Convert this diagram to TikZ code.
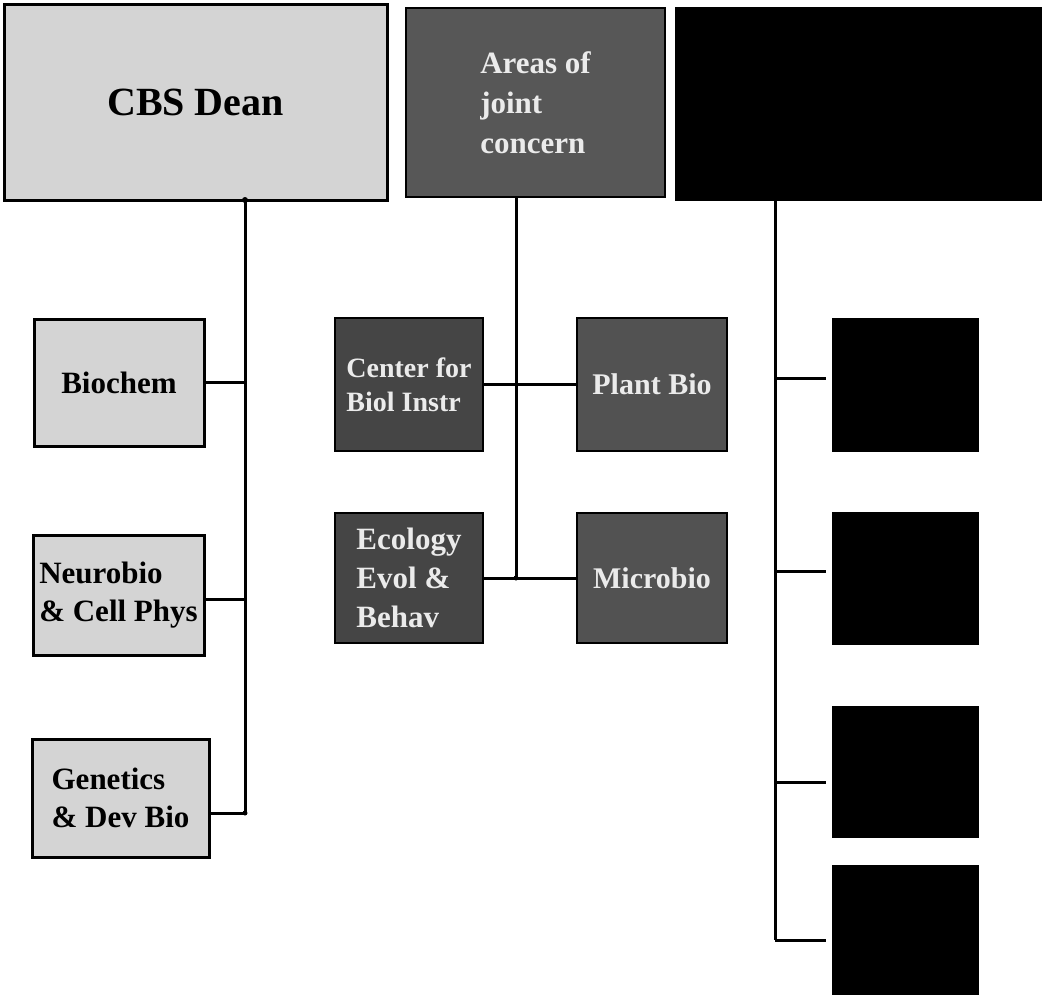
\documentclass[tikz,border=0pt]{standalone}
\usepackage{fontspec}
\setmainfont{Liberation Serif}
\begin{document}
\begin{tikzpicture}[x=1pt,y=-1pt,
  box/.style={draw=black,line width=3pt,inner sep=0pt,font=\bfseries},
  lightbox/.style={box,fill=black!17,text=black},
  darkbox/.style={box,fill=black!68,text=black!8,line width=2.5pt},
  blackbox/.style={box,fill=black,line width=1pt},
  conn/.style={line width=3pt},
  jdot/.style={circle,fill=black,inner sep=0pt,minimum size=6pt}]
\useasboundingbox (0,0) rectangle (1042,994);
\fill[white] (0,0) rectangle (1042,994);
% top row
\node[lightbox,minimum width=383pt,minimum height=196pt,font=\bfseries\fontsize{40}{48}\selectfont] (dean) at (195.5,102) {CBS Dean};
\node[darkbox,fill=black!66,minimum width=259pt,minimum height=189pt,align=left,font=\bfseries\fontsize{31}{40}\selectfont] (areas) at (535.5,102.5) {Areas of\\joint\\concern};
\node[blackbox,minimum width=372pt,minimum height=193pt] (topblack) at (861,103.5) {};
% left column
\node[lightbox,minimum width=170pt,minimum height=127pt,font=\bfseries\fontsize{31}{38}\selectfont] (biochem) at (119,382.5) {Biochem};
\node[lightbox,minimum width=171pt,minimum height=120pt,align=left,font=\bfseries\fontsize{31}{38}\selectfont] (neuro) at (118.5,595) {Neurobio\\\& Cell Phys};
\node[lightbox,minimum width=177pt,minimum height=118pt,align=left,font=\bfseries\fontsize{31}{38}\selectfont] (genetics) at (120.5,798) {Genetics\\\& Dev Bio};
% middle column
\node[darkbox,fill=black!73,minimum width=148pt,minimum height=133pt,align=left,font=\bfseries\fontsize{28}{34}\selectfont] (center) at (409,384.5) {Center for\\Biol Instr};
\node[darkbox,minimum width=150pt,minimum height=133pt,font=\bfseries\fontsize{30}{36}\selectfont] (plant) at (652,384.5) {Plant Bio};
\node[darkbox,fill=black!73,minimum width=148pt,minimum height=130pt,align=left,font=\bfseries\fontsize{31}{39}\selectfont] (ecology) at (409,578) {Ecology\\Evol \&\\Behav};
\node[darkbox,minimum width=150pt,minimum height=130pt,font=\bfseries\fontsize{30}{36}\selectfont] (microbio) at (652,578) {Microbio};
% right column
\node[blackbox,minimum width=146pt,minimum height=133pt] (r1) at (905,384.5) {};
\node[blackbox,minimum width=146pt,minimum height=132pt] (r2) at (905,578) {};
\node[blackbox,minimum width=146pt,minimum height=131pt] (r3) at (905,771.5) {};
\node[blackbox,minimum width=146pt,minimum height=130pt] (r4) at (905,930) {};
% trunk coordinates
\coordinate (lt) at (245,200);
\coordinate (lb) at (245,813);
\coordinate (mt) at (516,197);
\coordinate (mb) at (516,578);
\coordinate (rt) at (775,200);
\coordinate (rb) at (775,940);
\coordinate (rb1) at (775,378);
\coordinate (rb2) at (775,571);
\coordinate (rb3) at (775,782);
% left tree
\draw[conn] (lt) -- (lb);
\draw[conn] (biochem.east) -- (biochem.east -| lt);
\draw[conn] (neuro.east |- 0,599) -- (lt |- 0,599);
\draw[conn] (genetics.east |- lb) -- (lb);
\node[jdot] at (lt) {};
\node[jdot,minimum size=5pt] at (lb) {};
% middle tree
\draw[conn] (mt) -- (mb);
\draw[conn] (center.east |- 0,384) -- (plant.west |- 0,384);
\draw[conn] (ecology.east |- mb) -- (microbio.west);
\node[jdot,minimum size=5pt] at (mb) {};
% right tree
\draw[conn] (rt) -- (rb);
\draw[conn] (rb1) -- ([xshift=-6pt]r1.west |- rb1);
\draw[conn] (rb2) -- ([xshift=-6pt]r2.west |- rb2);
\draw[conn] (rb3) -- ([xshift=-6pt]r3.west |- rb3);
\draw[conn] (rb) -- ([xshift=-6pt]r4.west |- rb);
\end{tikzpicture}
\end{document}
